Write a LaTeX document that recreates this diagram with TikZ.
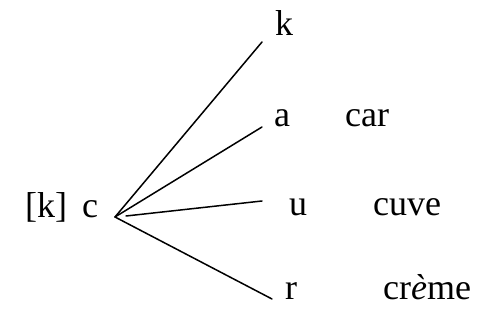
\documentclass[tikz,border=0pt]{standalone}
\usepackage{fontspec}
\setmainfont{Liberation Serif}
\begin{document}
\begin{tikzpicture}[x=1pt,y=1pt,
  lbl/.style={anchor=base west,inner sep=0pt,font=\fontsize{36}{40}\selectfont},
  link/.style={line width=1.5pt,line cap=round}]
\useasboundingbox (0,0) rectangle (486,320);
\node[lbl] (kb) at (25,102) {[k]};
\node[lbl] (c) at (82,102) {c};
\node[lbl] (k) at (275,284) {k};
\node[lbl] (a) at (274,193) {a};
\node[lbl] (car) at (345,193) {car};
\node[lbl] (u) at (289,104) {u};
\node[lbl] (cuve) at (373,104) {cuve};
\node[lbl] (r) at (285,20) {r};
\node[lbl] (creme) at (383,20) {cr\textit{è}me};
\coordinate (apex) at (115,103);
\coordinate (ustart) at (126,104);
\coordinate (kend) at (262,278);
\coordinate (aend) at (262,193);
\coordinate (uend) at (262,119);
\coordinate (rend) at (272,21);
\draw[link] (apex) -- (kend);
\draw[link] (apex) -- (aend);
\draw[link] (ustart) -- (uend);
\draw[link] (apex) -- (rend);
\end{tikzpicture}
\end{document}
